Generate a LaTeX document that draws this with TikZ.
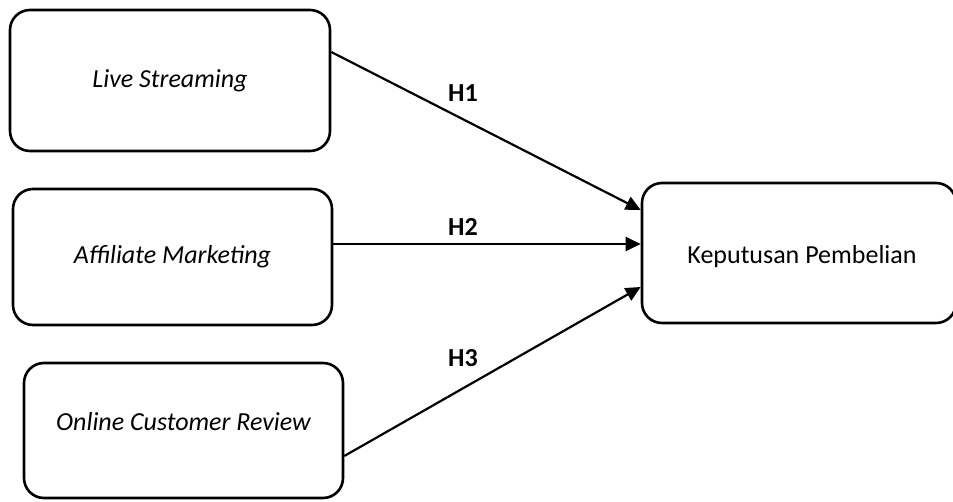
\documentclass[tikz,border=0pt]{standalone}
\usepackage{fontspec}
\setmainfont{Carlito}
\usetikzlibrary{arrows.meta,positioning}

\begin{document}
\begin{tikzpicture}[x=0.5pt,y=-0.5pt,
    var/.style={draw,line width=1.3pt,rounded corners=10pt,align=center,
      font=\fontsize{13}{15}\selectfont,inner sep=0pt},
    hyp/.style={font=\fontsize{13}{15}\selectfont\bfseries},
    arr/.style={line width=1.1pt,-{Triangle[length=7.5pt,width=7pt]}}]
        \useasboundingbox (0,0) rectangle (953,502);
        % variabel
        \node[var,minimum width=160pt,minimum height=70.5pt] (ls) at (170,80.5) {\itshape Live Streaming};
        \node[var,minimum width=159.5pt,minimum height=68pt] (am) at (172.5,257) {\itshape Affiliate Marketing};
        \node[var,minimum width=159.5pt,minimum height=67.5pt] (ocr) at (183.5,430.5) {};
        \node[font=\fontsize{13}{15}\selectfont\itshape] (ocrt) at (183.5,422) {Online Customer Review};
        \node[var,minimum width=157pt,minimum height=70pt] (kp) at (799,253) {};
        \node[font=\fontsize{13}{15}\selectfont] (kpt) at (802,257) {Keputusan Pembelian};
        % hipotesis
        \draw[arr] ([yshift=14.25pt]ls.east) -- ([yshift=21.5pt]kp.west);
        \draw[arr] ([yshift=6.5pt]am.east) -- ([yshift=4.5pt]kp.west);
        \draw[arr] ([yshift=-12.75pt]ocr.east) -- ([yshift=-17pt]kp.west);
        \node[hyp] (h1) at (463,93) {H1};
        \node[hyp] (h2) at (463,227) {H2};
        \node[hyp] (h3) at (463,358) {H3};
\end{tikzpicture}
\end{document}
